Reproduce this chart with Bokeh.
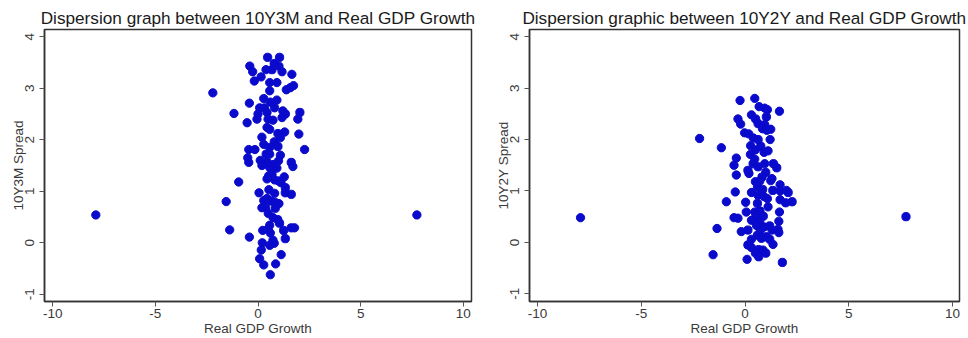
from bokeh.plotting import figure
from bokeh.layouts import row
from bokeh.models import FixedTicker
from bokeh.embed import file_html
from bokeh.resources import INLINE

# ---- Data: 10Y3M spread vs Real GDP growth ----
gdp_3m = [-7.9, 7.74, -2.2, -1.17, -0.53, -0.94, -1.55, -1.38, 2.27, 2.04, 1.94, 1.99, -0.42, 0.60,
          0.47, 1.05, -0.40, -0.26, -0.18, 0.15, 0.39, 0.68, 0.79, 1.02, 1.17, 1.65, 0.57, 0.92,
          0.57, 1.38, 1.57, 1.73, -0.42, 0.28, 0.60, 0.92, 0.08, 0.32, 0.81, 1.21, 0.0, 0.44,
          1.33, -0.05, 0.49, 0.73, 1.17, 0.44, 0.57, 1.30, 0.19, 0.97, 1.09, 0.28, 0.79, 0.97,
          -0.45, -0.15, 0.57, -0.50, -0.45, 0.40, 0.57, 1.09, 0.11, 0.44, 0.76, 1.00, 0.19, 1.62,
          1.70, 0.57, 0.92, 0.52, 0.68, 0.44, 0.81, 1.00, 1.28, 1.12, 1.33, 1.33, 1.62, 0.05,
          0.53, 0.81, 0.28, 0.44, 0.63, 0.84, 1.02, 0.19, 0.37, 0.84, 0.50, 0.73, 0.96, 1.05,
          0.57, 0.49, 0.23, 0.60, 1.25, 1.62, 1.78, 1.33, 0.21, 0.73, 0.79, 0.57, 0.16, 1.13,
          0.08, 0.28, 0.86]
spread_3m = [0.54, 0.54, 2.91, 2.51, 2.33, 1.18, 0.80, 0.25, 1.81, 2.53, 2.40, 2.11, 0.11, -0.62,
             3.60, 3.60, 3.43, 3.32, 3.14, 3.22, 3.36, 3.36, 3.48, 3.43, 3.32, 3.27, 3.11, 3.11,
             2.95, 2.97, 3.01, 3.05, 2.71, 2.80, 2.73, 2.77, 2.62, 2.62, 2.62, 2.56, 2.50, 2.53,
             2.50, 2.40, 2.40, 2.38, 2.43, 2.24, 2.20, 2.15, 2.05, 2.12, 2.04, 1.91, 1.96, 1.87,
             1.81, 1.81, 1.85, 1.65, 1.56, 1.72, 1.72, 1.70, 1.60, 1.57, 1.52, 1.59, 1.50, 1.56,
             1.48, 1.46, 1.45, 1.30, 1.33, 1.24, 1.22, 1.20, 1.28, 1.17, 1.07, 0.97, 0.94, 0.97,
             1.03, 0.96, 0.82, 0.86, 0.81, 0.78, 0.76, 0.68, 0.68, 0.67, 0.57, 0.49, 0.45, 0.38,
             0.34, 0.27, 0.24, 0.19, 0.24, 0.29, 0.29, 0.08, 0.0, 0.05, -0.01, -0.05, -0.14, -0.23,
             -0.31, -0.43, -0.41]

# ---- Data: 10Y2Y spread vs Real GDP growth ----
gdp_2y = [-7.93, 7.76, -2.19, -1.14, -1.35, -1.54, -0.90, 1.80, 2.27, 1.66,
          -0.24, 0.47, 0.68, 0.95, 1.08, 0.31, -0.34, 0.51, 1.03, -0.21, 0.63, 0.95, 0.84, 1.24,
          1.05, -0.02, 0.18, 0.40, 0.63, 1.21, 0.27, 0.76, 0.50, 0.92, 1.11, 0.26, -0.42, 0.47,
          -0.53, 0.39, 0.95, 1.37, 0.63, 1.53, 0.14, 1.00, -0.42, 0.19, 0.82, 1.30, 1.24, 0.50,
          0.71, 1.69, 0.60, 0.85, 1.34, 1.69, 2.00, 2.08, -0.47, 0.31, 0.63, 0.92, 1.08, 1.69,
          1.96, 0.03, 0.60, 1.11, 0.06, 0.47, 0.72, 1.66, 0.50, 0.88, -0.53, -0.34, 0.31, 0.71,
          1.63, 0.55, 0.92, 1.19, 0.14, -0.18, 0.74, 1.30, 1.59, 1.63, 0.60, 1.03, 0.31, 0.79,
          1.19, 0.14, 1.35, 0.31, 0.66, 0.50, 0.87, 1.00, 0.66, 0.10]
spread_2y = [0.48, 0.50, 2.02, 1.84, 0.27, -0.24, 0.79, -0.39, 0.79, 2.55,
             2.76, 2.80, 2.64, 2.61, 2.58, 2.48, 2.40, 2.40, 2.44, 2.30, 2.31, 2.29, 2.21, 2.20,
             2.18, 2.13, 2.11, 2.03, 2.00, 2.00, 1.88, 1.87, 1.80, 1.75, 1.78, 1.71, 1.64, 1.62,
             1.50, 1.53, 1.53, 1.53, 1.47, 1.45, 1.40, 1.36, 1.31, 1.34, 1.27, 1.24, 1.20, 1.18,
             1.19, 1.12, 1.08, 1.03, 1.01, 1.00, 1.01, 0.97, 0.98, 0.97, 0.92, 0.89, 0.85, 0.83,
             0.77, 0.78, 0.76, 0.69, 0.59, 0.59, 0.61, 0.59, 0.48, 0.51, 0.48, 0.47, 0.43, 0.40,
             0.41, 0.33, 0.30, 0.32, 0.24, 0.21, 0.24, 0.24, 0.25, 0.19, 0.14, 0.11, 0.06, 0.08,
             0.06, -0.05, -0.04, -0.10, -0.14, -0.21, -0.15, -0.21, -0.28, -0.33]

x_ticks = [-10, -5, 0, 5, 10]
x_tick_labels = ["-10", "-5", "0", "5", "10"]
y_ticks = [-1, 0, 1, 2, 3, 4]
y_tick_labels = ["-1", "0", "1", "2", "3", "4"]

FONT = "Liberation Sans"
DOT = "#0a0acc"
TXT = "#3a3a3a"


def make_panel(title, xs, ys, ylabel, width, border_left, border_right, xr, yr):
    p = figure(width=width, height=338, output_backend="svg", toolbar_location=None,
               x_range=xr, y_range=yr,
               min_border_left=border_left, min_border_right=border_right,
               min_border_top=29, min_border_bottom=37)
    p.title.text = title
    p.title.align = "center"
    p.title.text_font = FONT
    p.title.text_font_size = "17.2px"
    p.title.text_font_style = "normal"
    p.title.text_color = "#1a1a1a"
    p.title.standoff = 4
    p.grid.visible = False
    p.outline_line_color = "#333333"
    p.outline_line_width = 1.5
    p.scatter(xs, ys, size=8.3, color=DOT, line_color=DOT)

    for ax in (p.xaxis[0], p.yaxis[0]):
        ax.axis_line_color = "#333333"
        ax.axis_line_width = 1.5
        ax.major_tick_line_color = "#555555"
        ax.major_tick_out = 5
        ax.major_tick_in = 0
        ax.minor_tick_line_color = None
        ax.major_label_text_font = FONT
        ax.major_label_text_font_size = "13.5px"
        ax.major_label_text_color = TXT
        ax.axis_label_text_font = FONT
        ax.axis_label_text_font_size = "13.5px"
        ax.axis_label_text_font_style = "normal"
        ax.axis_label_text_color = TXT

    p.xaxis.major_label_standoff = 2
    p.xaxis.axis_label_standoff = 0
    p.yaxis.major_label_standoff = 5
    p.yaxis.axis_label_standoff = -3

    p.xaxis.ticker = FixedTicker(ticks=x_ticks)
    p.yaxis.ticker = FixedTicker(ticks=y_ticks)
    p.xaxis.major_label_overrides = dict(zip(x_ticks, x_tick_labels))
    p.yaxis.major_label_overrides = dict(zip(y_ticks, y_tick_labels))
    p.xaxis.axis_label = "Real GDP Growth"
    p.yaxis.axis_label = ylabel
    p.yaxis.major_label_orientation = "vertical"
    return p


p1 = make_panel("Dispersion graph between 10Y3M and Real GDP Growth", gdp_3m, spread_3m,
                "10Y3M Spread", 484, 44, 13, (-10.4, 10.4), (-1.14, 4.14))
p2 = make_panel("Dispersion graphic between 10Y2Y and Real GDP Growth", gdp_2y, spread_2y,
                "10Y2Y Spread", 484, 45, 9, (-10.39, 10.34), (-1.15, 4.14))

layout = row(p1, p2)
open("out.html", "w").write(file_html(layout, INLINE))
